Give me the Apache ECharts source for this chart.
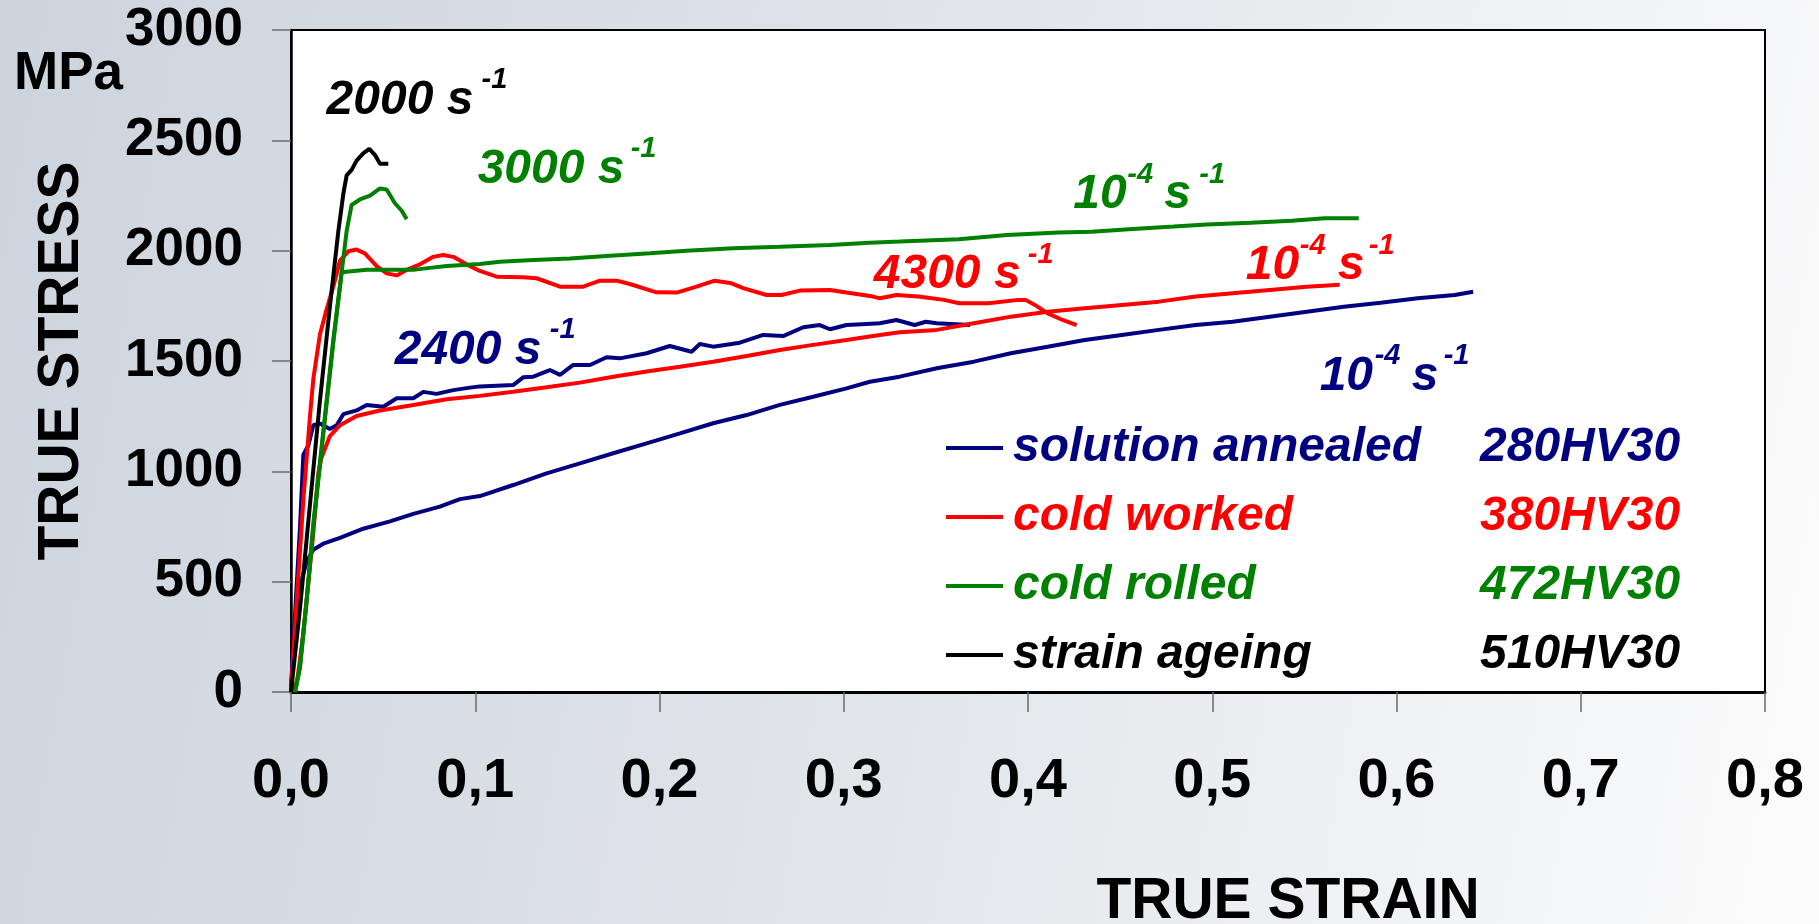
<!DOCTYPE html>
<html>
<head>
<meta charset="utf-8">
<script src="https://cdn.jsdelivr.net/npm/echarts@6/dist/echarts.min.js"></script>
<style>
  html, body { margin: 0; padding: 0; }
  body {
    width: 1819px; height: 924px; overflow: hidden;
    background: linear-gradient(100deg, #ccd4dd 0%, #d9dee5 30%, #e6e9ed 60%, #f4f5f7 85%, #fcfcfc 100%);
  }
  #chart { width: 1819px; height: 924px; }
</style>
</head>
<body>
<div id="chart"></div>
<script>
// ---------- DATA (true strain, true stress in MPa) ----------
const xTickLabels = ['0,0', '0,1', '0,2', '0,3', '0,4', '0,5', '0,6', '0,7', '0,8'];
const yTickValues = [0, 500, 1000, 1500, 2000, 2500, 3000];

const legendNames = ['solution annealed', 'cold worked', 'cold rolled', 'strain ageing'];
const hardness = ['280HV30', '380HV30', '472HV30', '510HV30'];
const colors = ['#000080', '#ff0000', '#008000', '#000000'];

// solution annealed, 10^-4 s^-1
const saQuasi = [[0,0],[0.0013,245],[0.0049,480],[0.0085,590],[0.0121,645],[0.0175,672],[0.0266,698],[0.0392,740],[0.0537,773],[0.0664,807],[0.0808,840],[0.0917,874],[0.1025,888],[0.1206,938],[0.1387,991],[0.1568,1036],[0.1749,1082],[0.193,1127],[0.2111,1172],[0.2291,1218],[0.2473,1255],[0.2653,1301],[0.2834,1338],[0.3015,1376],[0.3142,1406],[0.3304,1429],[0.3505,1467],[0.3706,1497],[0.3907,1535],[0.4107,1565],[0.4308,1595],[0.4509,1618],[0.471,1641],[0.491,1663],[0.5111,1678],[0.5312,1701],[0.5513,1723],[0.5714,1746],[0.5914,1764],[0.6115,1784],[0.6316,1799],[0.6416,1814]];
// solution annealed, 2400 s^-1
const saDyn = [[0,0],[0.0025,400],[0.0049,748],[0.0067,1075],[0.0094,1117],[0.0121,1209],[0.0157,1217],[0.0211,1192],[0.0248,1209],[0.0284,1259],[0.0356,1276],[0.0411,1301],[0.0501,1293],[0.0574,1331],[0.0664,1331],[0.0718,1360],[0.079,1351],[0.0881,1368],[0.0953,1377],[0.1025,1385],[0.1206,1391],[0.126,1426],[0.1315,1429],[0.1405,1459],[0.146,1437],[0.1532,1482],[0.1623,1482],[0.1713,1517],[0.1785,1512],[0.193,1535],[0.2056,1568],[0.2174,1542],[0.2219,1577],[0.2291,1565],[0.2436,1583],[0.2563,1618],[0.2671,1613],[0.278,1653],[0.287,1663],[0.2925,1644],[0.3015,1663],[0.3124,1668],[0.3196,1671],[0.3286,1686],[0.3385,1663],[0.3445,1678],[0.3505,1671],[0.3686,1663]];
// cold worked, 10^-4 s^-1
const cwQuasi = [[0.0012,0],[0.0035,60],[0.0067,266],[0.0121,719],[0.0148,991],[0.0165,1060],[0.0211,1160],[0.0266,1209],[0.0356,1251],[0.0483,1276],[0.0664,1301],[0.0845,1327],[0.1025,1342],[0.1206,1361],[0.1387,1381],[0.1568,1402],[0.1749,1429],[0.193,1452],[0.2111,1474],[0.2291,1497],[0.2473,1523],[0.2653,1550],[0.2834,1573],[0.3015,1595],[0.3196,1618],[0.3304,1630],[0.3505,1641],[0.3706,1671],[0.3907,1701],[0.4107,1723],[0.4308,1739],[0.4509,1754],[0.471,1769],[0.491,1792],[0.5111,1807],[0.5312,1822],[0.5513,1837],[0.5692,1845]];
// cold worked, 4300 s^-1
const cwDyn = [[0,0],[0.0031,412],[0.0067,870],[0.0103,1250],[0.0121,1418],[0.0157,1620],[0.0194,1737],[0.023,1838],[0.0266,1955],[0.0311,1997],[0.0356,2005],[0.0401,1988],[0.0465,1930],[0.0519,1897],[0.0574,1888],[0.0628,1913],[0.07,1938],[0.0772,1972],[0.0826,1980],[0.0881,1972],[0.0953,1938],[0.1025,1908],[0.1116,1882],[0.126,1879],[0.1333,1875],[0.146,1837],[0.1586,1837],[0.1677,1864],[0.1767,1864],[0.1839,1849],[0.1984,1811],[0.2093,1810],[0.2201,1837],[0.23,1864],[0.2391,1852],[0.2454,1830],[0.2581,1799],[0.2662,1799],[0.2762,1819],[0.2925,1822],[0.3015,1810],[0.316,1792],[0.3196,1784],[0.3286,1799],[0.3405,1792],[0.3545,1777],[0.3626,1762],[0.3786,1762],[0.3947,1777],[0.3987,1777],[0.4047,1749],[0.4107,1716],[0.4188,1686],[0.4264,1663]];
// cold rolled, 10^-4 s^-1
const crQuasi = [[0.0022,0],[0.0049,120],[0.0085,420],[0.0121,760],[0.0175,1180],[0.023,1600],[0.0275,1902],[0.0411,1913],[0.0664,1913],[0.0754,1922],[0.0845,1930],[0.1025,1940],[0.1134,1950],[0.1315,1958],[0.1514,1965],[0.1713,1976],[0.1948,1988],[0.2147,2000],[0.24,2011],[0.2653,2018],[0.2925,2026],[0.3142,2036],[0.3304,2041],[0.3625,2052],[0.3885,2071],[0.4167,2082],[0.4346,2086],[0.4547,2097],[0.4791,2109],[0.497,2119],[0.5209,2127],[0.5431,2136],[0.561,2147],[0.5795,2147]];
// cold rolled, 3000 s^-1
const crDyn = [[0.0022,0],[0.0049,111],[0.0085,412],[0.0121,748],[0.0175,1167],[0.023,1586],[0.0275,1902],[0.0302,2089],[0.0329,2207],[0.0374,2232],[0.0429,2249],[0.0483,2282],[0.0519,2277],[0.0564,2215],[0.06,2182],[0.0628,2143]];
// strain ageing, 2000 s^-1
const sgDyn = [[0,0],[0.0049,380],[0.0103,850],[0.0157,1320],[0.0212,1754],[0.0257,2089],[0.0284,2257],[0.0302,2341],[0.0329,2366],[0.0356,2408],[0.0392,2441],[0.0425,2461],[0.0456,2433],[0.0483,2394],[0.0528,2394]];

// strain-rate annotations: [strain, stress] anchor (left / baseline), colour index, pieces
const annoAnchors = [[0.0193,2606],[0.1013,2293],[0.0563,1473],[0.4246,2177],[0.3163,1814],[0.5182,1854],[0.5583,1355]];
const annoColors = [3, 2, 0, 2, 1, 1, 0];
const annoPieces = [
  [['2000 s',0,false],['-1',155,true]],
  [['3000 s',0,false],['-1',153,true]],
  [['2400 s',0,false],['-1',155,true]],
  [['10',0,false],['-4',54,true],['s',91,false],['-1',126,true]],
  [['4300 s',0,false],['-1',154,true]],
  [['10',0,false],['-4',54,true],['s',92,false],['-1',123,true]],
  [['10',0,false],['-4',55,true],['s',92,false],['-1',124,true]]
];

// ---------- CHART ----------
const FONT = '"Liberation Sans", Arial, sans-serif';
const chart = echarts.init(document.getElementById('chart'), null, { renderer: 'canvas' });

function lineSeries(name, data, color) {
  return {
    type: 'line', name: name, data: data, symbol: 'none', showSymbol: false, smooth: false,
    lineStyle: { color: color, width: 4 }, itemStyle: { color: color },
    animation: false, z: 3
  };
}

const option = {
  backgroundColor: 'transparent',
  animation: false,
  grid: {
    left: 291, right: 54, top: 30, bottom: 232,
    containLabel: false, outerBoundsMode: 'none',
    show: true, backgroundColor: '#ffffff', borderColor: '#000000', borderWidth: 2
  },
  xAxis: {
    type: 'value', min: 0, max: 0.8, interval: 0.1,
    name: 'TRUE STRAIN', nameLocation: 'middle', nameGap: 182,
    nameTextStyle: { fontFamily: FONT, fontSize: 57, fontWeight: 'bold', color: '#000', padding: [0, 0, 0, 520] },
    axisLine: { show: true, lineStyle: { color: '#000', width: 3 } },
    axisTick: { show: true, inside: false, length: 20, lineStyle: { color: '#6a6a6a', width: 1.5 } },
    axisLabel: {
      margin: 62, fontFamily: FONT, fontSize: 56, fontWeight: 'bold', color: '#000',
      formatter: v => xTickLabels[Math.round(v * 10)]
    },
    splitLine: { show: false }
  },
  yAxis: {
    type: 'value', min: 0, max: 3000, interval: 500,
    name: 'TRUE STRESS', nameLocation: 'middle', nameRotate: 90, nameGap: 200,
    nameTextStyle: { fontFamily: FONT, fontSize: 57, fontWeight: 'bold', color: '#000' },
    axisLine: { show: true, lineStyle: { color: '#000', width: 2.5 } },
    axisTick: { show: true, inside: false, length: 19, lineStyle: { color: '#6a6a6a', width: 1.5 } },
    axisLabel: {
      margin: 48, fontFamily: FONT, fontSize: 53, fontWeight: 'bold', color: '#000',
      formatter: v => (yTickValues.indexOf(v) >= 0 ? String(v) : '')
    },
    splitLine: { show: false }
  },
  legend: {
    show: true, orient: 'vertical', left: 941, top: 418,
    itemWidth: 57, itemHeight: 4, itemGap: 19, selectedMode: false, icon: 'rect',
    data: legendNames.map((n, i) => ({ name: n, icon: 'rect', itemStyle: { color: colors[i] }, textStyle: { color: colors[i] } })),
    formatter: name => '{n|' + name + '}{h|' + hardness[legendNames.indexOf(name)] + '}',
    textStyle: {
      fontFamily: FONT, fontSize: 48, fontWeight: 'bold', fontStyle: 'italic', lineHeight: 50,
      padding: [0, 0, 0, 5],
      rich: {
        n: { width: 467, fontFamily: FONT, fontSize: 48, fontWeight: 'bold', fontStyle: 'italic', lineHeight: 50 },
        h: { fontFamily: FONT, fontSize: 48, fontWeight: 'bold', fontStyle: 'italic', lineHeight: 50 }
      }
    }
  },
  series: [
    lineSeries(legendNames[0], saQuasi, colors[0]),
    lineSeries(legendNames[0], saDyn, colors[0]),
    lineSeries(legendNames[1], cwQuasi, colors[1]),
    lineSeries(legendNames[1], cwDyn, colors[1]),
    lineSeries(legendNames[2], crQuasi, colors[2]),
    lineSeries(legendNames[2], crDyn, colors[2]),
    lineSeries(legendNames[3], sgDyn, colors[3])
  ]
};
chart.setOption(option);

// annotations and unit label
const graphics = [];
graphics.push({
  type: 'text', left: 14, top: 48, z: 10,
  style: { text: 'MPa', fontFamily: FONT, fontSize: 53, fontWeight: 'bold', fill: '#000' }
});
annoAnchors.forEach((a, i) => {
  const p = chart.convertToPixel({ gridIndex: 0 }, a);
  annoPieces[i].forEach(piece => {
    const sup = piece[2];
    const fs = sup ? 29 : 48;
    const baseline = sup ? p[1] - 27 : p[1];
    graphics.push({
      type: 'text', x: p[0] + piece[1], y: baseline - 0.3465 * fs, z: 10,
      style: {
        text: piece[0], fontFamily: FONT, fontSize: fs, fontWeight: 'bold', fontStyle: 'italic',
        fill: colors[annoColors[i]], align: 'left', verticalAlign: 'middle'
      }
    });
  });
});
chart.setOption({ graphic: graphics });
</script>
</body>
</html>
